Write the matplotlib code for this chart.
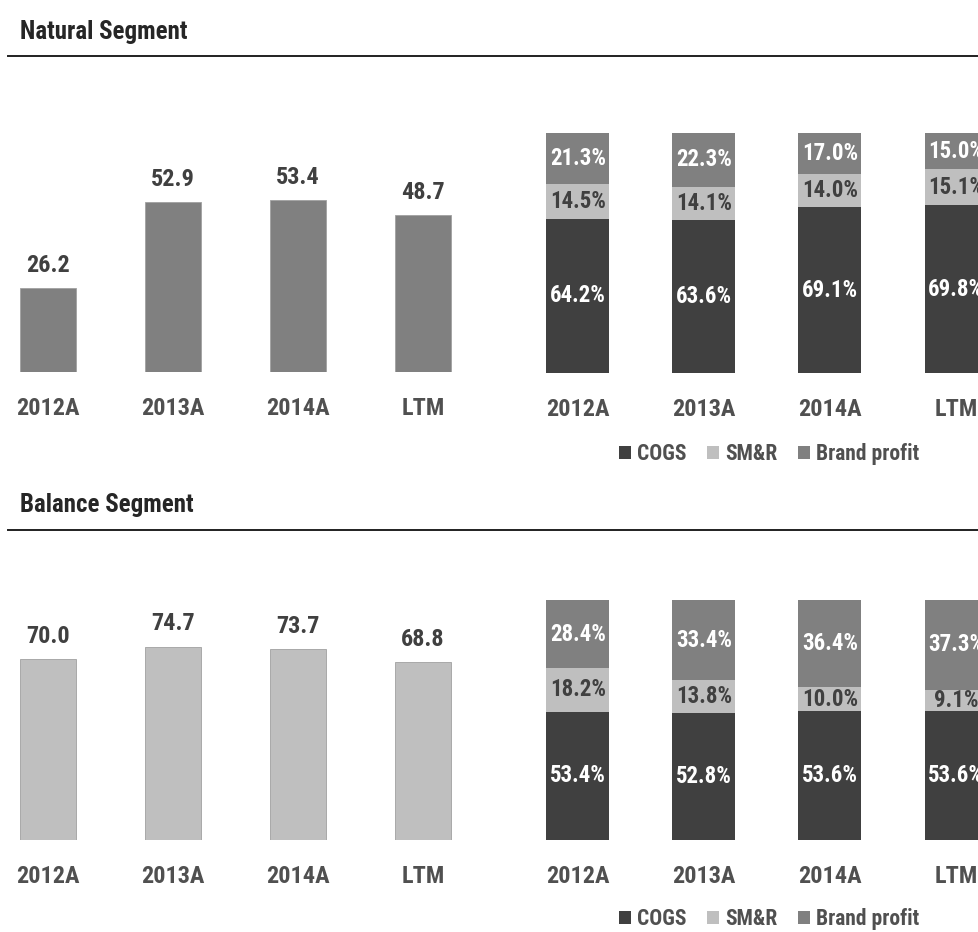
import matplotlib
matplotlib.use("Agg")
import matplotlib.pyplot as plt
from matplotlib.patches import Patch
from matplotlib import font_manager

# ---------------- data ----------------
categories = ["2012A", "2013A", "2014A", "LTM"]
natural_values = [26.2, 52.9, 53.4, 48.7]
balance_values = [70.0, 74.7, 73.7, 68.8]

natural_cogs = [64.2, 63.6, 69.1, 69.8]
natural_smr = [14.5, 14.1, 14.0, 15.1]
natural_brand = [21.3, 22.3, 17.0, 15.0]

balance_cogs = [53.4, 52.8, 53.6, 53.6]
balance_smr = [18.2, 13.8, 10.0, 9.1]
balance_brand = [28.4, 33.4, 36.4, 37.3]

series_names = ["COGS", "SM&R", "Brand profit"]
section_titles = ["Natural Segment", "Balance Segment"]

# ---------------- style ----------------
names = {f.name for f in font_manager.fontManager.ttflist}
narrow = None
for cand in ["Liberation Sans Narrow", "Arial Narrow", "Roboto Condensed",
             "Open Sans Condensed", "Noto Sans Condensed"]:
    if cand in names:
        narrow = cand
        break
if narrow is None:
    for n in sorted(names):
        if "Narrow" in n:
            narrow = n
            break

if narrow:
    FONT, SCALE = narrow, 1.0
else:
    FONT, SCALE = "Liberation Sans", 0.86

plt.rcParams["font.family"] = [FONT, "DejaVu Sans"]
plt.rcParams["font.weight"] = "bold"

FS_TITLE = 18 * SCALE
FS_CAT = 17.5 * SCALE
FS_VAL = 17.5 * SCALE
FS_PCT = 16.5 * SCALE
FS_LEG = 15.5 * SCALE

C_DARK = "#404040"
C_LIGHT = "#BFBFBF"
C_MID = "#808080"
TXT = "#404040"
CAT_TXT = "#505050"

W, H = 979, 932
fig = plt.figure(figsize=(W / 100, H / 100), dpi=100)


def ax_px(x0, y0, x1, y1):
    """Axes from pixel coords (top-left origin)."""
    return fig.add_axes([x0 / W, 1 - y1 / H, (x1 - x0) / W, (y1 - y0) / H])


def clean(ax):
    for s in ax.spines.values():
        s.set_visible(False)
    ax.set_yticks([])
    ax.tick_params(axis="x", length=0, pad=18)


xs = list(range(len(categories)))


def simple_bar(y_bottom, values, color, px_per_unit):
    top = y_bottom - 260
    ax = ax_px(0, top, 500, y_bottom)
    ax.set_xlim(-48 / 125, -48 / 125 + 4)
    ax.set_ylim(0, 260 / px_per_unit)
    ax.bar(xs, values, width=0.448, color=color, edgecolor="#A0A0A0", linewidth=0.6)
    for x, v in zip(xs, values):
        ax.annotate(f"{v:.1f}", (x, v), xytext=(0, 8), textcoords="offset points",
                    ha="center", va="bottom", fontsize=FS_VAL, color=TXT, fontweight="bold")
    ax.set_xticks(xs, categories, fontsize=FS_CAT, color=CAT_TXT, fontweight="bold")
    clean(ax)
    return ax


def stacked_bar(y_top, y_bottom, cogs, smr, brand):
    ax = ax_px(520, y_top, 979, y_bottom)
    ax.set_xlim(-58 / 126, -58 / 126 + 459 / 126)
    ax.set_ylim(0, 100)
    bw = 0.5
    ax.bar(xs, cogs, width=bw, color=C_DARK, linewidth=0)
    ax.bar(xs, smr, width=bw, bottom=cogs, color=C_LIGHT, linewidth=0)
    b2 = [c + s for c, s in zip(cogs, smr)]
    ax.bar(xs, brand, width=bw, bottom=b2, color=C_MID, linewidth=0)
    for x, c, s, b, base in zip(xs, cogs, smr, brand, b2):
        ax.text(x, c / 2, f"{c:.1f}%", ha="center", va="center", fontsize=FS_PCT,
                color="white", fontweight="bold")
        ax.text(x, c + s / 2, f"{s:.1f}%", ha="center", va="center", fontsize=FS_PCT,
                color=TXT, fontweight="bold")
        ax.text(x, base + b / 2, f"{b:.1f}%", ha="center", va="center", fontsize=FS_PCT,
                color="white", fontweight="bold")
    ax.set_xticks(xs, categories, fontsize=FS_CAT, color=CAT_TXT, fontweight="bold")
    clean(ax)
    return ax


def legend_at(y_px):
    handles = [Patch(facecolor=C_DARK), Patch(facecolor=C_LIGHT), Patch(facecolor=C_MID)]
    fig.legend(handles, series_names, loc="center", bbox_to_anchor=(769 / W, 1 - y_px / H),
               ncol=3, frameon=False, handlelength=0.55, handleheight=0.55,
               handletextpad=0.3, columnspacing=0.95, borderaxespad=0,
               prop={"family": [FONT, "DejaVu Sans"], "weight": "bold", "size": FS_LEG},
               labelcolor=CAT_TXT)


def section_header(title, y_text, y_line):
    fig.text(20 / W, 1 - y_text / H, title, ha="left", va="center", fontsize=FS_TITLE,
             fontweight="bold", color="#262626")
    fig.add_artist(plt.Line2D([8 / W, 1.0], [1 - y_line / H, 1 - y_line / H],
                              color="#202020", linewidth=1.4))


# Natural segment
section_header(section_titles[0], 32, 56)
simple_bar(372, natural_values, C_MID, 3.22)
stacked_bar(133, 373, natural_cogs, natural_smr, natural_brand)
legend_at(454)

# Balance segment
section_header(section_titles[1], 505, 530)
simple_bar(840, balance_values, C_LIGHT, 2.59)
stacked_bar(600, 840, balance_cogs, balance_smr, balance_brand)
legend_at(919)

fig.savefig("out.png", dpi=100)
